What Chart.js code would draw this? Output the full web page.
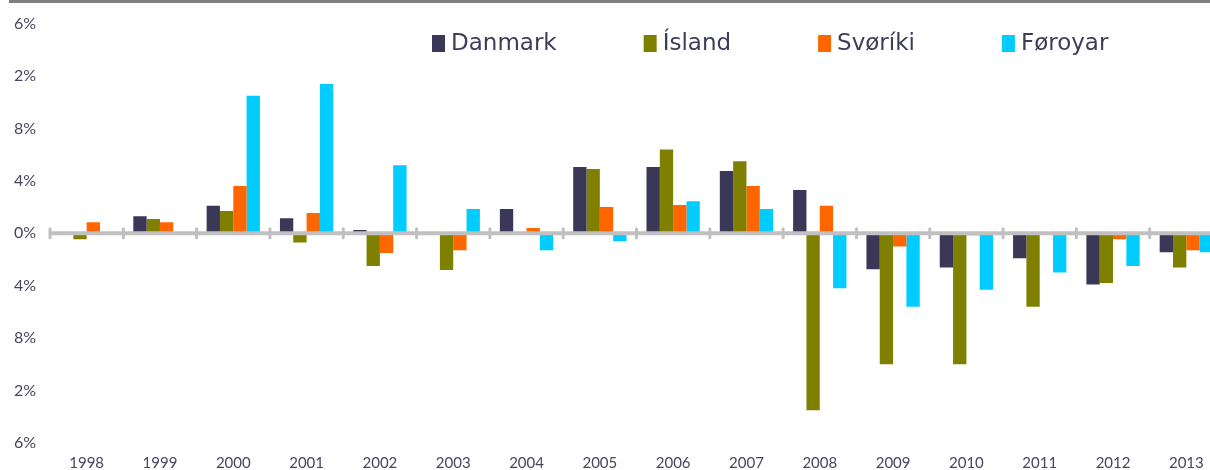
<!DOCTYPE html>
<html>
<head>
<meta charset="utf-8">
<script src="https://cdn.jsdelivr.net/npm/chart.js@4.4.1/dist/chart.umd.min.js"></script>
<style>
  html, body { margin: 0; padding: 0; background: #fff; overflow: hidden; }
  #topline { position: absolute; left: 9px; top: 0; width: 1201px; height: 3px; background: #7f7f7f; }
  #wrap { position: absolute; left: 0; top: 0; width: 1223px; height: 470px; }
</style>
</head>
<body>
<div id="topline"></div>
<div id="wrap"><canvas id="c"></canvas></div>
<script>
const years = ['1998','1999','2000','2001','2002','2003','2004','2005','2006','2007','2008','2009','2010','2011','2012','2013'];
const danmark = [-0.1, 1.3, 2.1, 1.15, 0.25, -0.1, 1.85, 5.05, 5.05, 4.75, 3.3, -2.75, -2.6, -1.9, -3.9, -1.45];
const island  = [-0.45, 1.1, 1.7, -0.7, -2.5, -2.8, 0, 4.9, 6.4, 5.5, -13.5, -10.0, -10.0, -5.6, -3.8, -2.6];
const sweden  = [0.85, 0.85, 3.6, 1.55, -1.5, -1.3, 0.4, 2.0, 2.15, 3.6, 2.1, -1.0, -0.15, 0, -0.45, -1.3];
const faroe   = [0, 0, 10.5, 11.4, 5.2, 1.85, -1.3, -0.6, 2.45, 1.85, -4.2, -5.6, -4.3, -3.0, -2.5, -1.45];
const seriesNames = ['Danmark', 'Ísland', 'Svøríki', 'Føroyar'];
// tick labels as visible in the (left-cropped) picture, for values 16,12,...,-16
const yTickValues = [16, 12, 8, 4, 0, -4, -8, -12, -16];
const yTickLabels = ['6%', '2%', '8%', '4%', '0%', '4%', '8%', '2%', '6%'];

const colors = ['#3b3757', '#808000', '#ff6600', '#00ccff'];
const textColor = '#46465e';

const zeroAxis = {
  id: 'zeroAxis',
  afterDatasetsDraw(chart) {
    const {ctx, chartArea, scales: {x, y}} = chart;
    const y0 = y.getPixelForValue(0);
    ctx.save();
    ctx.strokeStyle = '#c0c0c0';
    ctx.lineWidth = 4;
    ctx.beginPath();
    ctx.moveTo(chartArea.left, y0);
    ctx.lineTo(chartArea.right + 20, y0);
    ctx.stroke();
    ctx.lineWidth = 3;
    ctx.lineCap = 'round';
    for (let i = 0; i <= years.length; i++) {
      const bx = x.getPixelForValue(i - 0.5);
      ctx.beginPath();
      ctx.moveTo(bx, y0 - 4.5);
      ctx.lineTo(bx, y0 + 4.5);
      ctx.stroke();
    }
    ctx.restore();
  }
};

const customLegend = {
  id: 'customLegend',
  afterDraw(chart) {
    const ctx = chart.ctx;
    ctx.save();
    ctx.font = '23px "DejaVu Sans"';
    ctx.textBaseline = 'middle';
    let xPos = 432;
    const yc = 43.5;
    chart.data.datasets.forEach((ds) => {
      ctx.fillStyle = ds.backgroundColor;
      ctx.fillRect(xPos, yc - 8.5, 13, 17);
      ctx.fillStyle = '#3d3d5a';
      ctx.fillText(ds.label, xPos + 19, yc + 1);
      xPos += 19 + ctx.measureText(ds.label).width + 87;
    });
    ctx.restore();
  }
};

const seriesData = [danmark, island, sweden, faroe];

new Chart(document.getElementById('c'), {
  type: 'bar',
  data: {
    labels: years,
    datasets: seriesNames.map((name, i) => ({
      label: name,
      data: seriesData[i],
      backgroundColor: colors[i],
      borderWidth: 0,
      categoryPercentage: 0.727,
      barPercentage: 1.0
    }))
  },
  options: {
    responsive: true,
    maintainAspectRatio: false,
    animation: false,
    layout: { padding: { top: 18.5, left: 0, right: 0, bottom: 0 } },
    plugins: {
      legend: { display: false },
      tooltip: { enabled: false },
      title: { display: false }
    },
    scales: {
      x: {
        grid: { display: false, drawTicks: false },
        border: { display: false },
        ticks: {
          color: textColor,
          font: { family: 'Lato', size: 15 },
          padding: 11,
          maxRotation: 0,
          autoSkip: false
        },
        afterFit(scale) { scale.height = 27; }
      },
      y: {
        min: -16,
        max: 16,
        afterBuildTicks(scale) { scale.ticks = yTickValues.map(v => ({ value: v })); },
        grid: { display: false, drawTicks: false },
        border: { display: false },
        ticks: {
          color: textColor,
          font: { family: 'Lato', size: 16 },
          padding: 14,
          callback(value) {
            const idx = yTickValues.indexOf(value);
            return idx >= 0 ? yTickLabels[idx] : '';
          }
        },
        afterFit(scale) { scale.width = 50; }
      }
    }
  },
  plugins: [zeroAxis, customLegend]
});
</script>
</body>
</html>
